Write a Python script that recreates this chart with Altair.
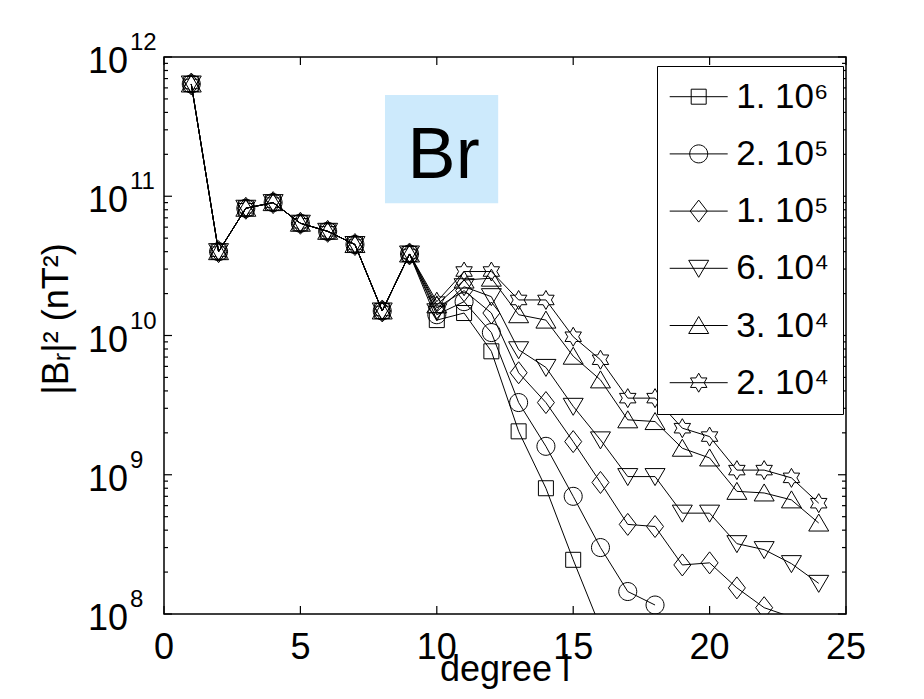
import math
import altair as alt
import pandas as pd

FONT = "Liberation Sans"
W, H = 682, 557
X_MIN, X_MAX = 0, 25
Y_MIN, Y_MAX = 1e8, 1e12

# ---------------- data ----------------
series_names = ["1. 10⁶", "2. 10⁵", "1. 10⁵", "6. 10⁴", "3. 10⁴", "2. 10⁴"]
degrees = list(range(1, 25))
common_low = [6.4e11, 4.0e10, 8.2e10, 9.0e10, 6.4e10, 5.6e10, 4.5e10, 1.5e10, 3.85e10]
s_1e6 = common_low + [1.29e10, 1.45e10, 7.7e9, 2.05e9, 8.0e8, 2.45e8, 8.0e7]
s_2e5 = common_low + [1.41e10, 1.75e10, 1.05e10, 3.3e9, 1.6e9, 7.0e8, 3.0e8, 1.45e8, 1.16e8]
s_1e5 = common_low + [1.58e10, 2.1e10, 1.45e10, 5.4e9, 3.3e9, 1.73e9, 8.8e8, 4.4e8, 4.25e8,
                      2.25e8, 2.33e8, 1.54e8, 1.11e8, 9.5e7]
s_6e4 = common_low + [1.48e10, 2.24e10, 1.9e10, 7.9e9, 5.9e9, 3.1e9, 1.78e9, 9.7e8, 9.7e8,
                      5.3e8, 5.3e8, 3.2e8, 2.9e8, 2.3e8, 1.66e8]
s_3e4 = common_low + [1.66e10, 2.5e10, 2.58e10, 1.41e10, 1.29e10, 7.1e9, 4.8e9, 2.48e9, 2.41e9,
                      1.55e9, 1.32e9, 7.6e8, 7.4e8, 6.6e8, 4.5e8]
s_2e4 = common_low + [1.75e10, 2.88e10, 2.88e10, 1.8e10, 1.8e10, 9.8e9, 6.7e9, 3.55e9, 3.55e9,
                      2.16e9, 1.88e9, 1.08e9, 1.08e9, 9.5e8, 6.25e8]
all_series = [s_1e6, s_2e5, s_1e5, s_6e4, s_3e4, s_2e4]

x_ticks = [0, 5, 10, 15, 20, 25]
x_tick_labels = ["0", "5", "10", "15", "20", "25"]
y_decades = [1e8, 1e9, 1e10, 1e11, 1e12]
y_exponents = ["8", "9", "10", "11", "12"]
y_minors = [float(m * 10 ** k) for k in range(8, 12) for m in range(2, 10)]
x_title = "degree l"
y_title = "|Bᵣ|² (nT²)"

# annotation box "Br"
box_x = [8.1, 12.25]
box_y = [8.9e10, 5.33e11]
box_text_pos = [10.25, 1.345e11]

rows = []
for name, vals in zip(series_names, all_series):
    for d, v in zip(degrees, vals):
        rows.append({"series": name, "degree": d, "value": v})
df = pd.DataFrame(rows)

box_df = pd.DataFrame({"x1": [box_x[0]], "x2": [box_x[1]], "y1": [box_y[0]], "y2": [box_y[1]]})
txt_df = pd.DataFrame({"x": [box_text_pos[0]], "y": [box_text_pos[1]], "t": ["Br"]})
ylab_df = pd.DataFrame({"v": y_decades, "base": ["10"] * len(y_decades), "exp": y_exponents})
xlab_df = pd.DataFrame({"v": x_ticks, "lab": x_tick_labels})
xtitle_df = pd.DataFrame({"t": [x_title]})
ytitle_df = pd.DataFrame({"t": [y_title]})

# inward tick segments: tick length (px) converted to data units of each scale
px_x = (X_MAX - X_MIN) / W
px_ylog = (math.log10(Y_MAX) - math.log10(Y_MIN)) / H
MAJ, MIN_ = 8, 4
xt_rows = []
for t in x_ticks:
    xt_rows.append({"x": t, "y1": Y_MIN, "y2": Y_MIN * 10 ** (MAJ * px_ylog)})
    xt_rows.append({"x": t, "y1": Y_MAX, "y2": Y_MAX / 10 ** (MAJ * px_ylog)})
yt_rows = []
for t in y_decades + y_minors:
    ln = MAJ if t in y_decades else MIN_
    yt_rows.append({"y": t, "x1": X_MIN, "x2": X_MIN + ln * px_x})
    yt_rows.append({"y": t, "x1": X_MAX, "x2": X_MAX - ln * px_x})
xt_df = pd.DataFrame(xt_rows)
yt_df = pd.DataFrame(yt_rows)

# ---------------- marker shapes (unit = sqrt(size)/2) ----------------
def poly(pts, dx=0.0):
    return "M" + "L".join(f"{x + dx:.3f},{y:.3f}" for x, y in pts) + "Z"

def circ(r, dx=0.0):
    return (f"M{dx + r:.3f},0A{r},{r},0,1,1,{dx - r:.3f},0"
            f"A{r},{r},0,1,1,{dx + r:.3f},0Z")

sq = [(-0.75, -0.75), (0.75, -0.75), (0.75, 0.75), (-0.75, 0.75)]
dia = [(0, -1.1), (0.85, 0), (0, 1.1), (-0.85, 0)]
tdn = [(-1, -0.8), (1, -0.8), (0, 0.9)]
tup = [(0, -0.9), (1, 0.8), (-1, 0.8)]
R, ri = 0.95, 0.95 / 3 ** 0.5
hexa = []
for i in range(12):
    ang = math.radians(-90 + 30 * i)
    rr = R if i % 2 == 0 else ri
    hexa.append((rr * math.cos(ang), rr * math.sin(ang)))

def shapes(dx=0.0):
    return [poly(sq, dx), circ(0.9, dx), poly(dia, dx), poly(tdn, dx), poly(tup, dx), poly(hexa, dx)]

plot_shapes = shapes(0.0)
LDX = 1.1
legend_shapes = [f"M{LDX - 2.9:.2f},0L{LDX + 2.9:.2f},0" + s for s in shapes(LDX)]

# ---------------- scales (axes drawn by hand, so axis=None everywhere) ----------------
x_scale = alt.Scale(domain=[X_MIN, X_MAX], nice=False, zero=False)
y_scale = alt.Scale(type="log", domain=[Y_MIN, Y_MAX], nice=False)

def X(field):
    return alt.X(field, scale=x_scale, axis=None)

def Y(field):
    return alt.Y(field, scale=y_scale, axis=None)

# ---------------- layers ----------------
rect = alt.Chart(box_df).mark_rect(color="#cdeafc").encode(
    x=X("x1:Q"), x2="x2:Q", y=Y("y1:Q"), y2="y2:Q")

text = alt.Chart(txt_df).mark_text(fontSize=72, font=FONT, align="center",
                                   baseline="alphabetic", color="black").encode(
    x=X("x:Q"), y=Y("y:Q"), text="t:N")

lines = alt.Chart(df).mark_line(color="black", strokeWidth=1, clip=True).encode(
    x=X("degree:Q"), y=Y("value:Q"), detail="series:N", order="degree:Q")

points = alt.Chart(df).transform_filter("datum.value >= 1e8").mark_point(
    filled=False, color="black", strokeWidth=1, opacity=1, size=400, clip=True).encode(
    x=X("degree:Q"), y=Y("value:Q"),
    shape=alt.Shape("series:N", scale=alt.Scale(domain=series_names, range=plot_shapes),
                    legend=None))

xtick_layer = alt.Chart(xt_df).mark_rule(color="black", strokeWidth=1.2).encode(
    x=X("x:Q"), y=Y("y1:Q"), y2="y2:Q")
ytick_layer = alt.Chart(yt_df).mark_rule(color="black", strokeWidth=1.2).encode(
    y=Y("y:Q"), x=X("x1:Q"), x2="x2:Q")

ylab_base = alt.Chart(ylab_df).mark_text(fontSize=36, font=FONT, align="right",
                                         baseline="alphabetic", dy=16, color="black").encode(
    x=alt.value(-36), y=Y("v:Q"), text="base:N")

ylab_exp = alt.Chart(ylab_df).mark_text(fontSize=24, font=FONT, align="left",
                                        baseline="alphabetic", dy=-7, color="black").encode(
    x=alt.value(-34), y=Y("v:Q"), text="exp:N")

xlab = alt.Chart(xlab_df).mark_text(fontSize=36, font=FONT, align="center",
                                    baseline="top", color="black").encode(
    x=X("v:Q"), y=alt.value(H + 17), text="lab:N")

xtitle = alt.Chart(xtitle_df).mark_text(fontSize=36, font=FONT, align="center",
                                        baseline="alphabetic", color="black").encode(
    x=alt.value(W / 2), y=alt.value(H + 67), text="t:N")

ytitle = alt.Chart(ytitle_df).mark_text(fontSize=36, font=FONT, align="center",
                                        baseline="middle", angle=270, color="black").encode(
    x=alt.value(-107), y=alt.value(262), text="t:N")

legend_layer = alt.Chart(df).transform_filter("datum.value < 0").mark_point(
    filled=False, color="black", strokeWidth=1, opacity=1).encode(
    x=X("degree:Q"), y=Y("value:Q"),
    shape=alt.Shape("series:N", scale=alt.Scale(domain=series_names, range=legend_shapes),
                    legend=alt.Legend(orient="none", legendX=493, legendY=9, title=None,
                                      labelFontSize=35, labelFont=FONT, labelColor="black",
                                      labelBaseline="middle", labelOffset=31,
                                      symbolSize=400, symbolStrokeColor="black",
                                      symbolStrokeWidth=1, symbolOpacity=1,
                                      padding=13.2, rowPadding=21.2,
                                      strokeColor="black", fillColor="white")))

chart = alt.layer(rect, text, lines, points, xtick_layer, ytick_layer,
                  ylab_base, ylab_exp, xlab, xtitle, ytitle, legend_layer).resolve_scale(
    shape="independent").properties(
    width=W, height=H,
    padding={"left": 156, "top": 49, "right": 62, "bottom": 76},
    autosize=alt.AutoSizeParams(type="none"),
    background="white").configure_view(stroke="black", strokeWidth=1.5)

chart.save("out.html", embed_options={"renderer": "svg", "actions": False})
